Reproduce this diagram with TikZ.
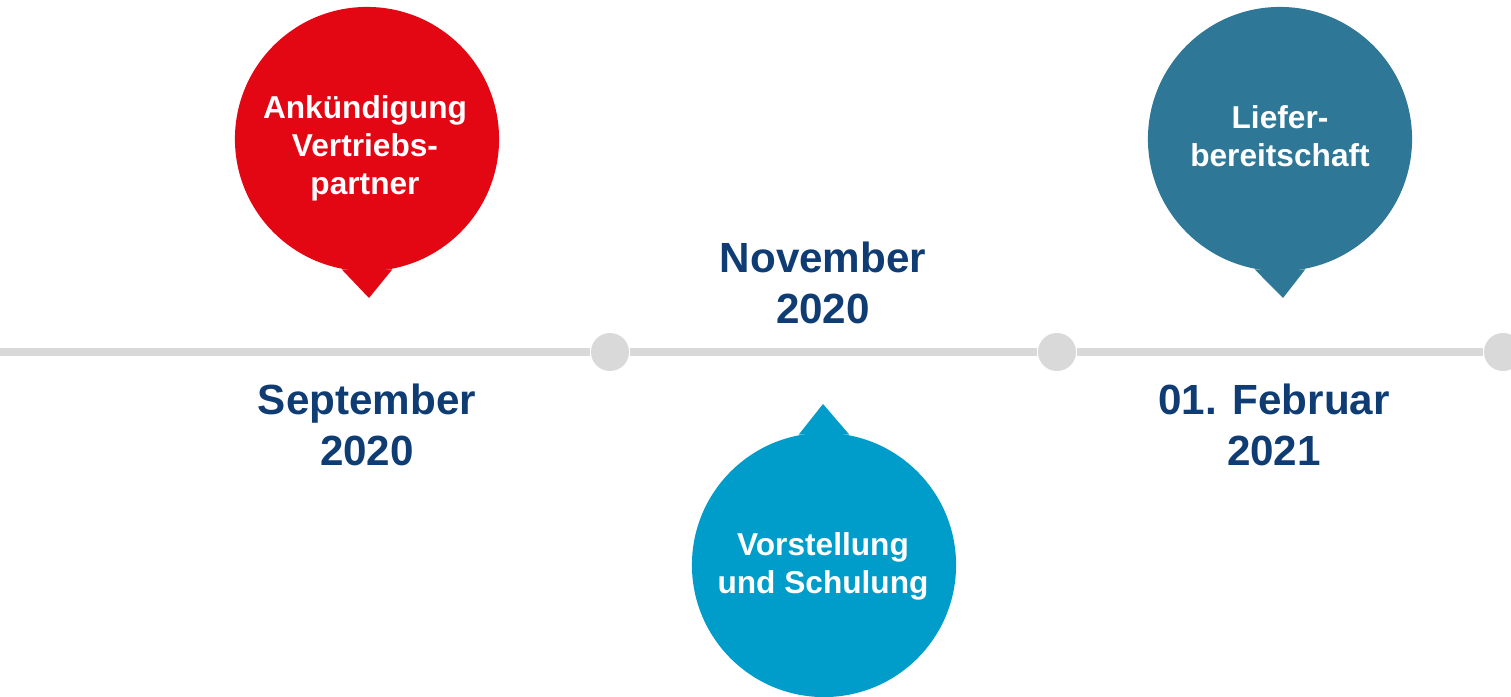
\documentclass[tikz,border=0pt]{standalone}
\usepackage{fontspec}
\setmainfont{Liberation Sans}
\definecolor{rotA}{HTML}{E30613}
\definecolor{petrol}{HTML}{2E7796}
\definecolor{hellblau}{HTML}{009DCA}
\definecolor{navy}{HTML}{0F3C73}
\definecolor{strich}{HTML}{D9D9D9}
\tikzset{
  bubble/.style={circle, fill=#1, minimum size=2.64cm, inner sep=0pt},
  bubbletext/.style={text=white, align=center, inner sep=0pt,
    font=\fontsize{9}{10.8}\selectfont\bfseries},
  datum/.style={text=navy, align=center, inner sep=0pt,
    font=\fontsize{12}{14.5}\selectfont\bfseries},
  punkt/.style={circle, fill=strich, minimum size=0.38cm, inner sep=0pt},
}
\begin{document}
\begin{tikzpicture}[x=0.01cm, y=-0.01cm]
                \useasboundingbox (0,0) rectangle (1511,697);
                % Zeitstrahl
                \coordinate (start) at (0,352);
                \node[punkt] (p1) at (610,352) {};
                \node[punkt] (p2) at (1057,352) {};
                \node[punkt] (p3) at (1503,352) {};
                \draw[strich, line width=0.08cm] (start) -- (p1) -- (p2) -- (p3);

                % Blasen
                \node[bubble=rotA] (b1) at (367,139) {};
                \coordinate (t1) at (369,298);
                \fill[rotA] (b1.-101) -- (t1) -- (b1.-79) -- cycle;
                \node[bubbletext] (l1) at (365,148) {Ankündigung\\Vertriebs-\\partner};

                \node[bubble=hellblau] (b2) at (824,565) {};
                \coordinate (t2) at (823,404);
                \fill[hellblau] (b2.101) -- (t2) -- (b2.79) -- cycle;
                \node[bubbletext] (l2) at (823,566) {Vorstellung\\und Schulung};

                \node[bubble=petrol] (b3) at (1280,139) {};
                \coordinate (t3) at (1283,298);
                \fill[petrol] (b3.-101) -- (t3) -- (b3.-79) -- cycle;
                \node[bubbletext] (l3) at (1280,136) {Liefer-\\bereitschaft};

                % Daten
                \node[datum] (d1) at (367,425) {September\\2020};
                \node[datum] (d2) at (823,283) {November\\2020};
                \node[datum] (d3) at (1274,425) {01. Februar\\2021};
            \end{tikzpicture}
\end{document}
